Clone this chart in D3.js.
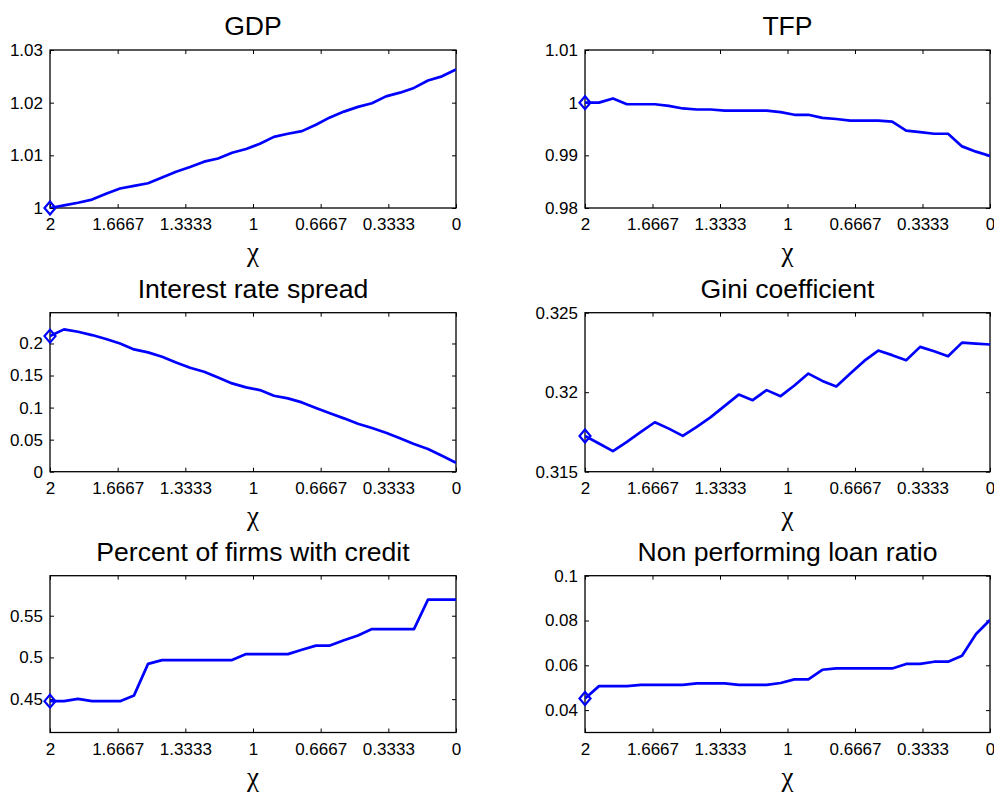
<!DOCTYPE html>
<html>
<head>
<meta charset="utf-8">
<script src="https://cdn.jsdelivr.net/npm/d3@7"></script>
<style>
html,body{margin:0;padding:0;background:#fff;}
svg{display:block;}
text{fill:#000;}
</style>
</head>
<body>
<svg id="chart" width="994" height="793"></svg>
<script>
// ---- data ----
const chi = [2, 1.931, 1.862, 1.793, 1.724, 1.655, 1.586, 1.517, 1.448, 1.379,
             1.310, 1.241, 1.172, 1.103, 1.034, 0.966, 0.897, 0.828, 0.759, 0.690,
             0.621, 0.552, 0.483, 0.414, 0.345, 0.276, 0.207, 0.138, 0.069, 0];
const xTicks = [2, 1.6667, 1.3333, 1, 0.6667, 0.3333, 0];
const xTickLabels = ["2", "1.6667", "1.3333", "1", "0.6667", "0.3333", "0"];

const gdp = [1.0000, 1.0005, 1.0010, 1.0016, 1.0027, 1.0037, 1.0042, 1.0047, 1.0058, 1.0069,
             1.0078, 1.0088, 1.0094, 1.0105, 1.0112, 1.0122, 1.0135, 1.0141, 1.0146, 1.0158,
             1.0172, 1.0183, 1.0192, 1.0199, 1.0212, 1.0219, 1.0228, 1.0242, 1.0250, 1.0263];
const tfp = [1.0000, 1.0000, 1.0008, 0.9997, 0.9997, 0.9997, 0.9994, 0.9989, 0.9987, 0.9987,
             0.9985, 0.9985, 0.9985, 0.9985, 0.9982, 0.9977, 0.9977, 0.9971, 0.9969, 0.9966,
             0.9966, 0.9966, 0.9964, 0.9947, 0.9944, 0.9941, 0.9941, 0.9917, 0.9907, 0.9899];
const spread = [0.2115, 0.2220, 0.2183, 0.2131, 0.2069, 0.2000, 0.1907, 0.1861, 0.1793, 0.1705,
                0.1622, 0.1560, 0.1471, 0.1377, 0.1315, 0.1273, 0.1185, 0.1143, 0.1081, 0.0993,
                0.0910, 0.0832, 0.0748, 0.0681, 0.0608, 0.0520, 0.0431, 0.0353, 0.0250, 0.0140];
const gini = [0.31725, 0.31677, 0.31629, 0.31688, 0.31750, 0.31811, 0.31771, 0.31725, 0.31782, 0.31843,
              0.31914, 0.31985, 0.31950, 0.32013, 0.31975, 0.32042, 0.32117, 0.32071, 0.32036, 0.32117,
              0.32197, 0.32262, 0.32233, 0.32201, 0.32285, 0.32258, 0.32226, 0.32312, 0.32306, 0.32300];
const credit = [0.4476, 0.4476, 0.4504, 0.4476, 0.4476, 0.4476, 0.4545, 0.4923, 0.4968, 0.4968,
                0.4968, 0.4968, 0.4968, 0.4968, 0.5040, 0.5040, 0.5040, 0.5040, 0.5093, 0.5142,
                0.5142, 0.5206, 0.5263, 0.5340, 0.5340, 0.5340, 0.5340, 0.5694, 0.5694, 0.5694];
const npl = [0.0452, 0.0507, 0.0507, 0.0507, 0.0513, 0.0513, 0.0513, 0.0513, 0.0519, 0.0519,
             0.0519, 0.0513, 0.0513, 0.0513, 0.0521, 0.0537, 0.0537, 0.0580, 0.0586, 0.0586,
             0.0586, 0.0586, 0.0586, 0.0606, 0.0606, 0.0616, 0.0616, 0.0643, 0.0740, 0.0802];

const titles = ["GDP", "TFP", "Interest rate spread", "Gini coefficient",
                "Percent of firms with credit", "Non performing loan ratio"];
const seriesList = [gdp, tfp, spread, gini, credit, npl];
const yDomains = [[1, 1.03], [0.98, 1.01], [0, 0.248], [0.315, 0.325], [0.41, 0.598], [0.03, 0.1]];
const yTicks = [[1, 1.01, 1.02, 1.03], [0.98, 0.99, 1, 1.01], [0, 0.05, 0.1, 0.15, 0.2],
                [0.315, 0.32, 0.325], [0.45, 0.5, 0.55], [0.04, 0.06, 0.08, 0.1]];
const yTickLabels = [["1", "1.01", "1.02", "1.03"], ["0.98", "0.99", "1", "1.01"],
                     ["0", "0.05", "0.1", "0.15", "0.2"], ["0.315", "0.32", "0.325"],
                     ["0.45", "0.5", "0.55"], ["0.04", "0.06", "0.08", "0.1"]];
const xLabel = "χ";

// ---- layout ----
const cols = [[50, 456], [585, 990]];
const rows = [[50, 208], [312.7, 471.7], [575.7, 732.5]];
const blue = "#0000ff";
const tickLen = 4;
const sans = '"Liberation Sans",Arial,sans-serif';
const serif = '"Liberation Serif","Times New Roman",serif';

const svg = d3.select("#chart");

seriesList.forEach((vals, k) => {
  const c = cols[k % 2], r = rows[Math.floor(k / 2)];
  const x = d3.scaleLinear().domain([2, 0]).range([c[0], c[1]]);
  const y = d3.scaleLinear().domain(yDomains[k]).range([r[1], r[0]]);
  const g = svg.append("g");

  const clipId = "clip" + k;
  svg.append("clipPath").attr("id", clipId).append("rect")
    .attr("x", c[0]).attr("y", r[0]).attr("width", c[1] - c[0]).attr("height", r[1] - r[0]);

  const xb = d3.axisBottom(x).tickValues(xTicks).tickSize(-tickLen).tickPadding(10)
    .tickFormat((d, i) => xTickLabels[i]);
  const gxb = g.append("g").attr("transform", `translate(0,${r[1]})`).call(xb);
  const xt = d3.axisTop(x).tickValues(xTicks).tickSize(-tickLen).tickFormat("");
  const gxt = g.append("g").attr("transform", `translate(0,${r[0]})`).call(xt);
  const yl = d3.axisLeft(y).tickValues(yTicks[k]).tickSize(-tickLen).tickPadding(7)
    .tickFormat((d, i) => yTickLabels[k][i]);
  const gyl = g.append("g").attr("transform", `translate(${c[0]},0)`).call(yl);
  const yr = d3.axisRight(y).tickValues(yTicks[k]).tickSize(-tickLen).tickFormat("");
  const gyr = g.append("g").attr("transform", `translate(${c[1]},0)`).call(yr);

  [gxb, gxt, gyl, gyr].forEach(a => {
    a.selectAll(".domain").remove();
    a.selectAll("line").attr("stroke", "#000").attr("stroke-width", 1);
    a.selectAll("text").style("font-size", "17px").style("font-family", sans).style("fill", "#000");
  });
  gxb.selectAll("text").attr("dy", "0.71em");

  g.append("rect").attr("x", c[0]).attr("y", r[0])
    .attr("width", c[1] - c[0]).attr("height", r[1] - r[0])
    .attr("fill", "none").attr("stroke", "#000").attr("stroke-width", 1.3);

  const line = d3.line().x((d, i) => x(chi[i])).y(d => y(d));
  g.append("path").datum(vals).attr("d", line)
    .attr("fill", "none").attr("stroke", blue).attr("stroke-width", 2.7)
    .attr("stroke-linejoin", "round").attr("clip-path", `url(#${clipId})`);

  const mx = x(chi[0]), my = y(vals[0]);
  g.append("path")
    .attr("d", `M${mx},${my - 6.5}L${mx + 5.5},${my}L${mx},${my + 6.5}L${mx - 5.5},${my}Z`)
    .attr("fill", "none").attr("stroke", blue).attr("stroke-width", 2.2);

  g.append("text").attr("x", (c[0] + c[1]) / 2).attr("y", r[0] - 15)
    .attr("text-anchor", "middle").style("font-size", "26.6px").style("font-family", sans)
    .text(titles[k]);
  g.append("text").attr("x", (c[0] + c[1]) / 2).attr("y", r[1] + 53)
    .attr("text-anchor", "middle").style("font-size", "27px").style("font-family", serif)
    .text(xLabel);
});
</script>
</body>
</html>
